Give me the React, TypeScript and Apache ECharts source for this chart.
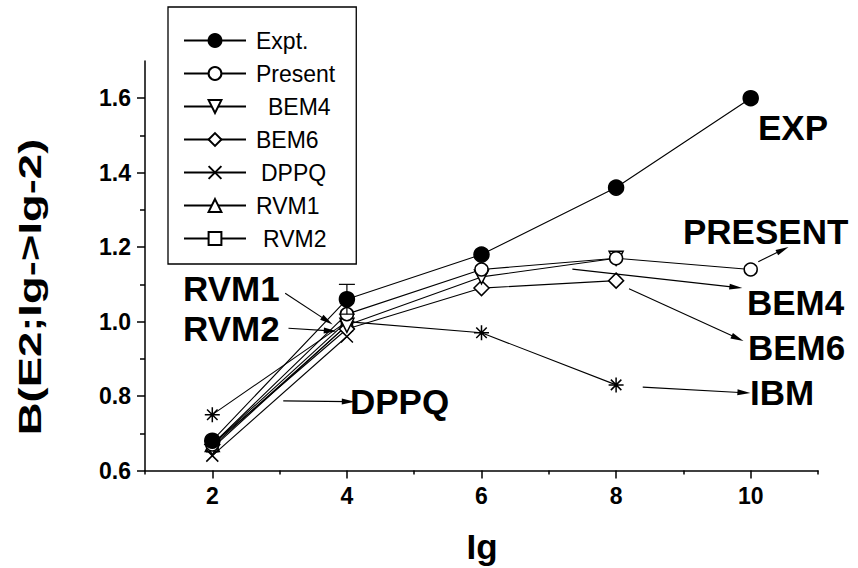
import React, { useEffect, useRef } from 'react';
import * as echarts from 'echarts';

// ---- data ----
const lg = [2, 4, 6, 8, 10];
const expt = [0.68, 1.06, 1.18, 1.36, 1.6];
const errLg = [4];
const errVal = [0.04];
const present = [0.67, 1.02, 1.14, 1.17, 1.14];
const bem4 = [0.66, 0.99, 1.12, 1.17];
const bem6 = [0.67, 0.98, 1.09, 1.11];
const dppq = [0.64, 0.96];
const rvm1 = [0.67, 1.0];
const rvm2 = [0.665, 0.99];
const ibm = [0.75, 1.0, 0.97, 0.83];

const xLabelValues = [2, 4, 6, 8, 10];
const xMinorValues = [1, 3, 5, 7, 9, 11];
const yLabelValues = [0.6, 0.8, 1.0, 1.2, 1.4, 1.6];
const yMinorValues = [0.7, 0.9, 1.1, 1.3, 1.5];

const legendNames = ['Expt.', 'Present', 'BEM4', 'BEM6', 'DPPQ', 'RVM1', 'RVM2'];

// annotation arrows in data space: [x1, y1, x2, y2]
const arrows = [
  [3.083, 1.076, 3.708, 1.002],
  [3.132, 0.982, 3.753, 0.975],
  [3.054, 0.787, 4.021, 0.785],
  [10.112, 1.161, 10.475, 1.193],
  [7.35, 1.141, 9.78, 1.092],
  [8.192, 1.088, 9.805, 0.955],
  [8.396, 0.824, 9.899, 0.809],
];

const FONT = 'Arial, "Liberation Sans", Helvetica, sans-serif';

const pts = (ys: number[]) => ys.map((y, i) => [lg[i], y]);

const TRI_DOWN = 'path://M0,0L20,0L10,18Z';
const CROSS = 'path://M0,0L20,20M20,0L0,20';
const STAR = 'path://M10,0L10,20M0,10L20,10M3,3L17,17M17,3L3,17';

const indent: Record<string, number> = { BEM4: 17, DPPQ: 10, RVM2: 12 };

export default function App() {
  const ref = useRef<HTMLDivElement>(null);
  useEffect(() => {
    if (!ref.current) return;
    const chart = echarts.init(ref.current, undefined, { renderer: 'svg' });

    const mk = (name: string, data: number[], symbol: string, size: number, fill: string, z: number) => ({
      name,
      type: 'line',
      data: pts(data),
      symbol,
      symbolSize: size,
      z,
      itemStyle: { color: fill, borderColor: '#000', borderWidth: 1.5 },
      lineStyle: { color: '#000', width: 1.1 },
      emphasis: { disabled: true },
    });

    const rich: Record<string, any> = {};
    [5, 10, 12, 17].forEach((p) => {
      rich['p' + p] = { fontSize: 23, fontFamily: FONT, color: '#000', padding: [0, 0, 0, p], lineHeight: 23 };
    });

    const bigText = (text: string, x: number, y: number) => ({
      type: 'text',
      x,
      y,
      style: {
        text,
        fill: '#000',
        font: `bold 35px ${FONT}`,
        textAlign: 'left',
        textVerticalAlign: 'middle',
      },
    });

    const option: any = {
      animation: false,
      backgroundColor: '#fff',
      grid: { left: 145, right: 40, top: 61, bottom: 97.5 },
      xAxis: [
        {
          type: 'value',
          min: 1,
          max: 11,
          position: 'bottom',
          axisLine: { show: true, lineStyle: { color: '#000', width: 1.5 } },
          axisTick: { show: true, length: 8, customValues: xLabelValues, lineStyle: { color: '#000', width: 1.5 } },
          axisLabel: {
            customValues: xLabelValues,
            color: '#000',
            fontSize: 23,
            fontWeight: 'bold',
            fontFamily: FONT,
            margin: 14,
          },
          splitLine: { show: false },
        },
        {
          type: 'value',
          min: 1,
          max: 11,
          position: 'bottom',
          axisLine: { show: false },
          axisTick: { show: true, length: 4, customValues: xMinorValues, lineStyle: { color: '#000', width: 1.5 } },
          axisLabel: { show: false },
          splitLine: { show: false },
        },
      ],
      yAxis: [
        {
          type: 'value',
          min: 0.6,
          max: 1.7,
          position: 'left',
          axisLine: { show: true, lineStyle: { color: '#000', width: 1.5 } },
          axisTick: { show: true, length: 8, customValues: yLabelValues, lineStyle: { color: '#000', width: 1.5 } },
          axisLabel: {
            customValues: yLabelValues,
            formatter: (v: number) => v.toFixed(1),
            color: '#000',
            fontSize: 23,
            fontWeight: 'bold',
            fontFamily: FONT,
            margin: 14,
          },
          splitLine: { show: false },
        },
        {
          type: 'value',
          min: 0.6,
          max: 1.7,
          position: 'left',
          axisLine: { show: false },
          axisTick: { show: true, length: 5, customValues: yMinorValues, lineStyle: { color: '#000', width: 1.5 } },
          axisLabel: { show: false },
          splitLine: { show: false },
        },
      ],
      legend: {
        data: legendNames,
        orient: 'vertical',
        left: 168,
        top: 7,
        padding: [22, 21, 14, 15],
        itemWidth: 62,
        itemHeight: 16,
        itemGap: 10,
        borderColor: '#000',
        borderWidth: 1.3,
        selectedMode: false,
        textStyle: { fontSize: 23, fontFamily: FONT, color: '#000', lineHeight: 23, rich },
        formatter: (name: string) => `{p${indent[name] || 5}|${name}}`,
      },
      graphic: [
        bigText('EXP', 758, 127),
        bigText('PRESENT', 683, 231),
        bigText('BEM4', 747, 302),
        bigText('BEM6', 748, 347),
        bigText('IBM', 750, 392),
        bigText('RVM1', 183, 288),
        bigText('RVM2', 183, 328),
        bigText('DPPQ', 350, 401),
        {
          type: 'text',
          x: 482,
          y: 546,
          style: { text: 'Ig', fill: '#000', font: `bold 35px ${FONT}`, textAlign: 'center', textVerticalAlign: 'middle' },
        },
        {
          type: 'text',
          x: 30,
          y: 287,
          rotation: Math.PI / 2,
          scaleX: 1.42,
          style: {
            text: 'B(E2;Ig->Ig-2)',
            fill: '#000',
            font: `bold 32px ${FONT}`,
            textAlign: 'center',
            textVerticalAlign: 'middle',
          },
        },
      ],
      series: [
        {
          name: 'IBM',
          type: 'line',
          data: pts(ibm),
          symbol: STAR,
          symbolSize: 15,
          z: 2,
          itemStyle: { color: '#000', borderColor: '#000', borderWidth: 1.5 },
          lineStyle: { color: '#000', width: 1.1 },
          emphasis: { disabled: true },
          markLine: {
            silent: true,
            symbol: ['none', 'triangle'],
            symbolSize: [6, 13],
            label: { show: false },
            lineStyle: { color: '#000', width: 1.1, type: 'solid' },
            itemStyle: { color: '#000' },
            emphasis: { disabled: true },
            data: arrows.map((a) => [{ coord: [a[0], a[1]] }, { coord: [a[2], a[3]] }]),
          },
        },
        mk('RVM2', rvm2, 'rect', 11, '#fff', 3),
        mk('RVM1', rvm1, 'triangle', 14, '#fff', 3),
        mk('DPPQ', dppq, CROSS, 12, '#000', 3),
        mk('BEM6', bem6, 'diamond', 15, '#fff', 3),
        mk('BEM4', bem4, TRI_DOWN, 14, '#fff', 3),
        mk('Present', present, 'circle', 13, '#fff', 4),
        mk('Expt.', expt, 'circle', 15, '#000', 4),
        {
          type: 'custom',
          z: 6,
          silent: true,
          data: errLg.map((x, i) => [x, expt[lg.indexOf(x)], errVal[i]]),
          renderItem: (params: any, api: any) => {
            const x = api.value(0);
            const y = api.value(1);
            const e = api.value(2);
            const top = api.coord([x, y + e]);
            const bot = api.coord([x, y - e]);
            const st = { stroke: '#000', lineWidth: 1.2 };
            return {
              type: 'group',
              children: [
                { type: 'line', shape: { x1: top[0], y1: top[1], x2: bot[0], y2: bot[1] }, style: st },
                { type: 'line', shape: { x1: top[0] - 8, y1: top[1], x2: top[0] + 8, y2: top[1] }, style: st },
                { type: 'line', shape: { x1: bot[0] - 8, y1: bot[1], x2: bot[0] + 8, y2: bot[1] }, style: st },
              ],
            };
          },
        },
      ],
    };

    chart.setOption(option);
    return () => chart.dispose();
  }, []);

  return <div ref={ref} style={{ position: 'fixed', left: 0, top: 0, width: 858, height: 568 }} />;
}
